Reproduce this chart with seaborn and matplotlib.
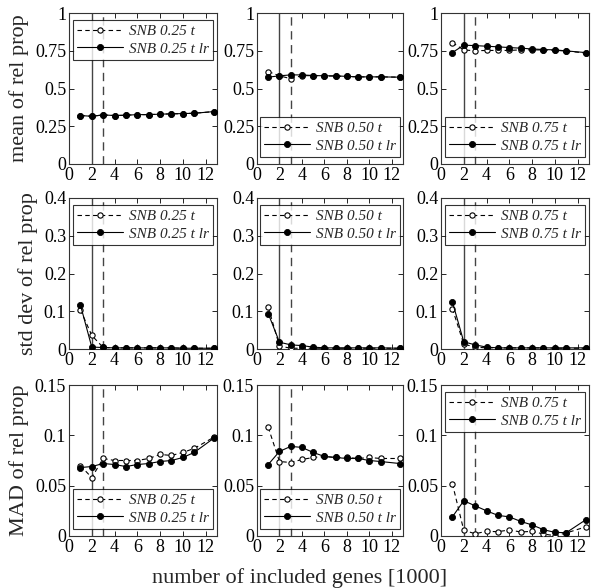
import numpy as np
import pandas as pd
import matplotlib
matplotlib.use("Agg")
import matplotlib.pyplot as plt
import seaborn as sns

sns.set_theme(style="white")
plt.rcParams['font.family'] = ['Liberation Serif', 'DejaVu Serif']
plt.rcParams['mathtext.fontset'] = 'stix'

genes = [1, 2, 3, 4, 5, 6, 7, 8, 9, 10, 11, 12.7]
levels = ["0.25", "0.50", "0.75"]

# mean of rel prop
mean_t_025 = [0.321, 0.316, 0.325, 0.321, 0.323, 0.327, 0.327, 0.330, 0.332, 0.334, 0.336, 0.347]
mean_lr_025 = [0.321, 0.316, 0.325, 0.321, 0.323, 0.327, 0.327, 0.330, 0.332, 0.334, 0.336, 0.347]
mean_t_050 = [0.612, 0.584, 0.565, 0.585, 0.585, 0.583, 0.582, 0.580, 0.577, 0.577, 0.577, 0.575]
mean_lr_050 = [0.575, 0.584, 0.590, 0.590, 0.586, 0.584, 0.584, 0.580, 0.577, 0.577, 0.577, 0.575]
mean_t_075 = [0.804, 0.755, 0.750, 0.752, 0.752, 0.752, 0.756, 0.756, 0.755, 0.753, 0.748, 0.735]
mean_lr_075 = [0.738, 0.787, 0.784, 0.780, 0.776, 0.771, 0.767, 0.762, 0.758, 0.756, 0.749, 0.738]

# std dev of rel prop
std_t_025 = [0.104, 0.036, 0.004, 0.003, 0.003, 0.003, 0.003, 0.003, 0.003, 0.002, 0.002, 0.002]
std_lr_025 = [0.117, 0.005, 0.004, 0.003, 0.003, 0.003, 0.003, 0.003, 0.003, 0.002, 0.002, 0.002]
std_t_050 = [0.111, 0.008, 0.002, 0.002, 0.002, 0.002, 0.002, 0.002, 0.002, 0.002, 0.002, 0.002]
std_lr_050 = [0.094, 0.018, 0.011, 0.009, 0.005, 0.003, 0.003, 0.003, 0.003, 0.003, 0.003, 0.002]
std_t_075 = [0.107, 0.013, 0.005, 0.003, 0.003, 0.003, 0.003, 0.003, 0.003, 0.002, 0.002, 0.002]
std_lr_075 = [0.125, 0.019, 0.011, 0.005, 0.003, 0.003, 0.003, 0.003, 0.003, 0.003, 0.003, 0.003]

# MAD of rel prop
mad_t_025 = [0.070, 0.058, 0.077, 0.075, 0.075, 0.075, 0.077, 0.081, 0.080, 0.083, 0.087, 0.098]
mad_lr_025 = [0.068, 0.069, 0.072, 0.071, 0.069, 0.071, 0.072, 0.074, 0.075, 0.078, 0.083, 0.097]
mad_t_050 = [0.108, 0.074, 0.073, 0.076, 0.078, 0.079, 0.078, 0.078, 0.077, 0.078, 0.077, 0.077]
mad_lr_050 = [0.071, 0.084, 0.089, 0.088, 0.083, 0.079, 0.078, 0.077, 0.077, 0.075, 0.074, 0.072]
mad_t_075 = [0.052, 0.0056, 0.0023, 0.0046, 0.0043, 0.006, 0.004, 0.0046, 0.002, 0.0003, 0.003, 0.009]
mad_lr_075 = [0.019, 0.035, 0.030, 0.025, 0.0205, 0.019, 0.0145, 0.011, 0.0063, 0.0036, 0.0033, 0.016]

row_labels = ["mean of rel prop", "std dev of rel prop", "MAD of rel prop"]
xlabel = "number of included genes [1000]"
xticks = [0, 2, 4, 6, 8, 10, 12]
yticks_rows = [[0, 0.25, 0.5, 0.75, 1], [0, 0.1, 0.2, 0.3, 0.4], [0, 0.05, 0.1, 0.15]]
ytick_labels_rows = [["0", "0.25", "0.5", "0.75", "1"], ["0", "0.1", "0.2", "0.3", "0.4"],
                     ["0", "0.05", "0.1", "0.15"]]
ylims = [(0, 1), (0, 0.4), (0, 0.15)]
vline_solid = 2
vline_dashed = 3

data = [
    [(mean_t_025, mean_lr_025), (mean_t_050, mean_lr_050), (mean_t_075, mean_lr_075)],
    [(std_t_025, std_lr_025), (std_t_050, std_lr_050), (std_t_075, std_lr_075)],
    [(mad_t_025, mad_lr_025), (mad_t_050, mad_lr_050), (mad_t_075, mad_lr_075)],
]
legend_locs = [["upper", "lower", "lower"], ["upper", "upper", "upper"], ["lower", "lower", "upper"]]

W, H = 600, 588
fig = plt.figure(figsize=(W / 100, H / 100), dpi=100)
fig.patch.set_facecolor("white")

col_left = [69, 257, 441]
col_w = [148, 146, 148]
row_top = [13, 198, 385]
row_h = 151

for r in range(3):
    for c in range(3):
        ax = fig.add_axes([col_left[c] / W, 1 - (row_top[r] + row_h) / H, col_w[c] / W, row_h / H])
        ax.set_facecolor("white")
        t_vals, lr_vals = data[r][c]
        df = pd.DataFrame({"genes": genes, "t": t_vals, "lr": lr_vals})
        ax.axvline(vline_solid, color="#444444", lw=1.0, zorder=1)
        ax.axvline(vline_dashed, color="#444444", lw=1.0, ls=(0, (6, 4)), zorder=1)
        sns.lineplot(data=df, x="genes", y="t", ax=ax, color="black", lw=0.8,
                     linestyle=(0, (4, 3)), marker="o", markersize=3.8,
                     markerfacecolor="white", markeredgecolor="black", markeredgewidth=0.8,
                     label=f"SNB {levels[c]} t", errorbar=None, zorder=3)
        sns.lineplot(data=df, x="genes", y="lr", ax=ax, color="black", lw=0.8,
                     marker="o", markersize=4.4, markerfacecolor="black",
                     markeredgecolor="black", markeredgewidth=0.6, label=f"SNB {levels[c]} t lr",
                     errorbar=None, zorder=4)
        ax.set_xlim(0, 13)
        ax.set_ylim(*ylims[r])
        ax.set_xticks(xticks)
        ax.set_xticklabels([str(v) for v in xticks])
        ax.set_yticks(yticks_rows[r])
        ax.set_yticklabels(ytick_labels_rows[r])
        ax.tick_params(direction="in", length=3.5, width=0.6, top=True, right=True,
                       bottom=True, left=True, labelsize=13, pad=2, colors="black")
        for s in ax.spines.values():
            s.set_color("#333333")
            s.set_linewidth(0.8)
        ax.set_xlabel("")
        ax.set_ylabel("")
        if c == 0:
            ax.set_ylabel(row_labels[r], fontsize=16, labelpad=4)
        loc = "upper center" if legend_locs[r][c] == "upper" else "lower center"
        leg = ax.legend(loc=loc, frameon=True, fancybox=False, edgecolor="black",
                        prop={"style": "italic", "size": 11, "family": "Liberation Serif"},
                        handlelength=3.0, numpoints=1, borderaxespad=0.45,
                        borderpad=0.3, labelspacing=0.25, handletextpad=0.4)
        leg.get_frame().set_linewidth(0.8)

fig.text(300 / W, 1 - 578 / H, xlabel, fontsize=16, ha="center", va="center")

fig.savefig("out.png", dpi=100, facecolor="white")
